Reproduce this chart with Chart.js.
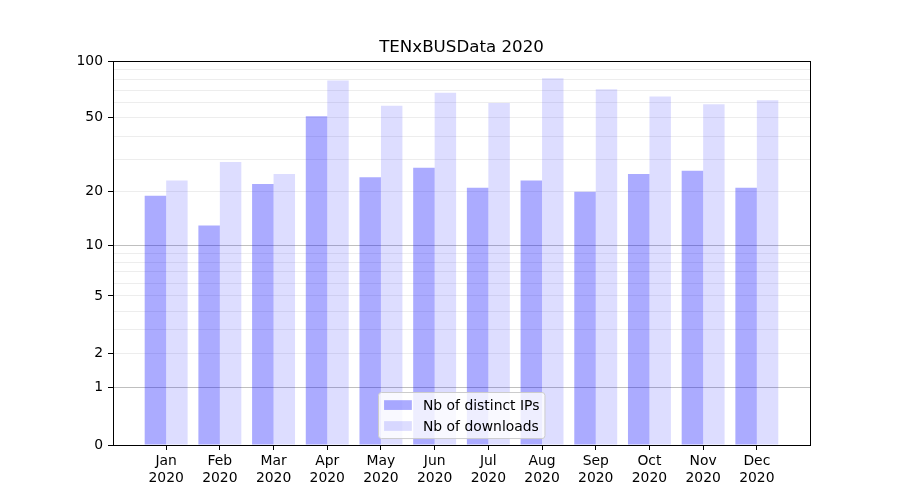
<!DOCTYPE html>
<html>
<head>
<meta charset="utf-8">
<script src="https://cdn.jsdelivr.net/npm/chart.js@4/dist/chart.umd.min.js"></script>
<style>
  html, body { margin: 0; padding: 0; background: #fff; }
  #wrap { width: 900px; height: 500px; }
</style>
</head>
<body>
<div id="wrap"><canvas id="chart" width="900" height="500"></canvas></div>
<script>
// chart data
const months = ["Jan", "Feb", "Mar", "Apr", "May", "Jun", "Jul", "Aug", "Sep", "Oct", "Nov", "Dec"];
const year = "2020";
const distinctIPs = [19, 13, 22, 51, 24, 27, 21, 23, 20, 25, 26, 21];
const downloads = [23, 29, 25, 79, 58, 68, 60, 81, 71, 65, 59, 62];

// y axis: log10(1 + v) scale
const yGridValues = [0, 1, 2, 3, 4, 5, 6, 7, 8, 9, 10, 20, 30, 40, 50, 60, 70, 80, 90, 100];
const yLabelValues = [0, 1, 2, 5, 10, 20, 50, 100];
const yMajorGrid = [1, 10];

const FONT = "'DejaVu Sans', 'Liberation Sans', sans-serif";
Chart.defaults.font.family = FONT;
Chart.defaults.font.size = 13.9;
Chart.defaults.color = "#000";

function fwd(v) {
  return Math.log10(1 + v);
}

// frame around the axes + matplotlib-like legend inside the plot
const framePlugin = {
  id: "frame",
  afterDraw(chart) {
    const { ctx, chartArea } = chart;
    ctx.save();
    ctx.strokeStyle = "#000";
    ctx.lineWidth = 1;
    ctx.strokeRect(
      Math.round(chartArea.left) + 0.5,
      Math.round(chartArea.top) + 0.5,
      Math.round(chartArea.right - chartArea.left),
      Math.round(chartArea.bottom - chartArea.top)
    );

    // legend
    const fs = 13.9;
    ctx.font = fs + "px " + FONT;
    const pad = 0.4 * fs, handleW = 2.0 * fs, handleH = 0.7 * fs;
    const textPad = 0.8 * fs, spacing = 0.5 * fs, rowH = 14;
    const sets = chart.data.datasets;
    let textW = 0;
    sets.forEach((d) => { textW = Math.max(textW, ctx.measureText(d.label).width); });
    const boxW = pad * 2 + handleW + textPad + textW;
    const boxH = pad * 2 + rowH * sets.length + spacing * (sets.length - 1);
    const cx = (chartArea.left + chartArea.right) / 2;
    const left = Math.round(cx - boxW / 2) + 0.5;
    const top = Math.round(chartArea.bottom - 0.5 * fs - boxH) + 0.5;

    ctx.beginPath();
    ctx.roundRect(left, top, boxW, boxH, 3);
    ctx.fillStyle = "rgba(255,255,255,0.8)";
    ctx.fill();
    ctx.strokeStyle = "#cccccc";
    ctx.stroke();

    ctx.textBaseline = "middle";
    ctx.textAlign = "left";
    sets.forEach((d, i) => {
      const cy = top + pad + rowH / 2 + i * (rowH + spacing);
      ctx.fillStyle = d.backgroundColor;
      ctx.fillRect(left + pad, cy - handleH / 2, handleW, handleH);
      ctx.fillStyle = "#000";
      ctx.fillText(d.label, left + pad + handleW + textPad, cy + 1);
    });
    ctx.restore();
  },
};

let ctx = document.getElementById("chart");

let chart = new Chart(ctx, {
  type: "bar",
  data: {
    datasets: [
      {
        label: "Nb of distinct IPs",
        data: distinctIPs.map((v, i) => ({ x: i, y: fwd(v) })),
        backgroundColor: "rgba(0,0,255,0.33)",
        borderWidth: 0,
        barPercentage: 1.0,
        categoryPercentage: 0.8,
      },
      {
        label: "Nb of downloads",
        data: downloads.map((v, i) => ({ x: i, y: fwd(v) })),
        backgroundColor: "rgba(0,0,255,0.135)",
        borderWidth: 0,
        barPercentage: 1.0,
        categoryPercentage: 0.8,
      },
    ],
  },
  options: {
    responsive: false,
    animation: false,
    layout: { padding: { top: 0, right: 90, bottom: 0, left: 0 } },
    plugins: {
      legend: { display: false },
      tooltip: { enabled: false },
      title: {
        display: true,
        text: "TENxBUSData 2020",
        fullSize: false,
        color: "#000",
        font: { size: 16.67, weight: "normal", lineHeight: 1.2 },
        padding: { top: 38, bottom: 3 },
      },
    },
    scales: {
      x: {
        type: "linear",
        offset: false,
        min: -0.99,
        max: 11.99,
        afterBuildTicks: (scale) => {
          scale.ticks = months.map((m, i) => ({ value: i }));
        },
        afterFit: (scale) => { scale.height = 55; },
        ticks: {
          autoSkip: false,
          maxRotation: 0,
          padding: 3,
          callback: (value) => [months[Math.round(value)], year],
        },
        grid: {
          offset: false,
          drawOnChartArea: false,
          tickLength: 5,
          tickWidth: 1,
          tickColor: "#000",
        },
        border: { color: "#000", width: 1 },
      },
      y: {
        type: "linear",
        min: 0,
        max: fwd(100),
        afterBuildTicks: (scale) => {
          scale.ticks = yGridValues.map((v) => ({ value: fwd(v) }));
        },
        afterFit: (scale) => { scale.width = 113; },
        ticks: {
          autoSkip: false,
          padding: 5,
          callback: (value, index) => {
            const v = yGridValues[index];
            return yLabelValues.includes(v) ? String(v) : "";
          },
        },
        grid: {
          tickLength: 5,
          tickWidth: 1,
          color: (c) => {
            const v = yGridValues[c.index];
            if (v === 0 || v === 100) return "rgba(0,0,0,0)";
            return yMajorGrid.includes(v) ? "rgba(0,0,0,0.25)" : "rgba(0,0,0,0.07)";
          },
          tickColor: (c) => {
            const v = yGridValues[c.index];
            return yLabelValues.includes(v) ? "#000" : "rgba(0,0,0,0)";
          },
        },
        border: { color: "#000", width: 1 },
      },
    },
  },
  plugins: [framePlugin],
});
</script>
</body>
</html>
